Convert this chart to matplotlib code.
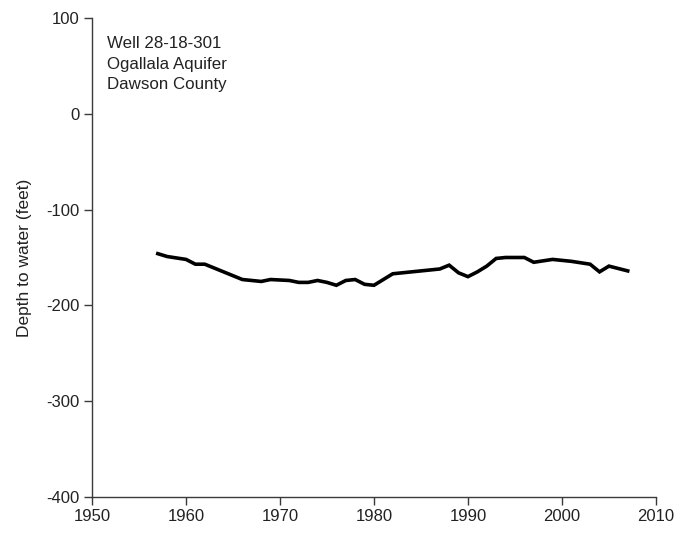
import matplotlib
matplotlib.use("Agg")
import matplotlib.pyplot as plt

plt.rcParams['font.family'] = ['Liberation Sans', 'DejaVu Sans']
plt.rcParams['axes.unicode_minus'] = False

years = [1957, 1958, 1960, 1961, 1962, 1963, 1964, 1966, 1968, 1969,
         1971, 1972, 1973, 1974, 1975, 1976, 1977, 1978, 1979, 1980,
         1982, 1985, 1987, 1988, 1989, 1990, 1991, 1992, 1993, 1994,
         1996, 1997, 1999, 2001, 2003, 2004, 2005, 2007]
depth = [-146, -149, -152, -157, -157, -161, -165, -173, -175, -173,
         -174, -176, -176, -174, -176, -179, -174, -173, -178, -179,
         -167, -164, -162, -158, -166, -170, -165, -159, -151, -150,
         -150, -155, -152, -154, -157, -165, -159, -164]

xticks = [1950, 1960, 1970, 1980, 1990, 2000, 2010]
yticks = [100, 0, -100, -200, -300, -400]

fig = plt.figure(figsize=(6.79, 5.36), dpi=100)
ax = fig.add_axes([0.1355, 0.0728, 0.8305, 0.8936])

ax.plot(years, depth, color='black', lw=2.6, solid_joinstyle='miter')

ax.set_xlim(1950, 2010)
ax.set_ylim(-400, 100)
ax.set_xticks(xticks)
ax.set_yticks(yticks)
ax.spines['top'].set_visible(False)
ax.spines['right'].set_visible(False)
for s in ['left', 'bottom']:
    ax.spines[s].set_color('#3a3a3a')
    ax.spines[s].set_linewidth(1.0)
ax.tick_params(direction='out', length=6, width=1.0, color='#3a3a3a',
               labelsize=12, labelcolor='#222222', pad=3)
ax.set_ylabel("Depth to water (feet)", fontsize=12.5, color='#222222', labelpad=10)

ax.text(0.027, 0.962, "Well 28-18-301\nOgallala Aquifer\nDawson County",
        transform=ax.transAxes, va='top', ha='left', fontsize=12.2,
        color='#222222', linespacing=1.45)

fig.savefig("out.png", dpi=100)
